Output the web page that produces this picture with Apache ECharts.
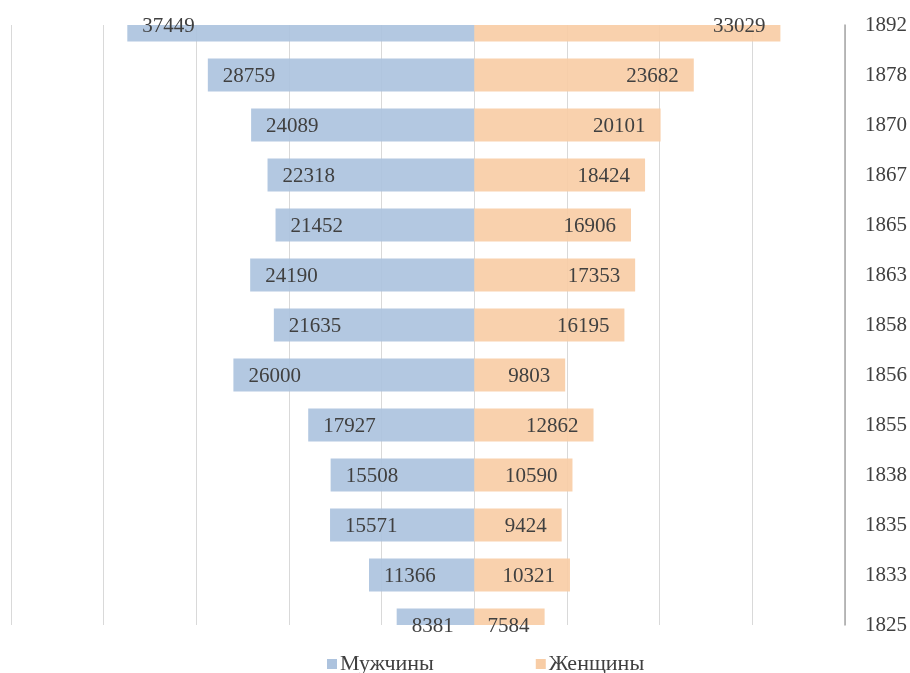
<!DOCTYPE html>
<html><head><meta charset="utf-8">
<script src="https://cdn.jsdelivr.net/npm/echarts@6/dist/echarts.min.js"></script>
<style>html,body{margin:0;padding:0;background:#fff}#c{width:910px;height:673px}</style>
</head><body><div id="c"></div>
<script>
const years = ['1825','1833','1835','1838','1855','1856','1858','1863','1865','1867','1870','1878','1892'];
const men   = [8381, 11366, 15571, 15508, 17927, 26000, 21635, 24190, 21452, 22318, 24089, 28759, 37449];
const women = [7584, 10321, 9424, 10590, 12862, 9803, 16195, 17353, 16906, 18424, 20101, 23682, 33029];
const seriesNames = ['Мужчины', 'Женщины'];
const colors = ['#adc3de', '#f8cda6'];

const font = 'Liberation Serif, Times New Roman, serif';
const BAR_H = 33;

function makeRender(side) {
  return function (params, api) {
    const val = api.value(0);
    const cat = api.value(1);
    const p0 = api.coord([0, cat]);
    const p1 = api.coord([val, cat]);
    const cs = params.coordSys;
    const shape = echarts.graphic.clipRectByRect(
      { x: Math.min(p0[0], p1[0]), y: p0[1] - BAR_H / 2, width: Math.abs(p1[0] - p0[0]), height: BAR_H },
      { x: cs.x, y: cs.y, width: cs.width, height: cs.height }
    );
    const children = [];
    if (shape) {
      children.push({ type: 'rect', shape: shape, style: { fill: api.visual('color'), opacity: 0.92 } });
    }
    children.push({
      type: 'text',
      style: {
        text: String(Math.abs(val)),
        x: side === 'left' ? p1[0] + 15 : p1[0] - 15,
        y: p1[1] + 1,
        align: side === 'left' ? 'left' : 'right',
        verticalAlign: 'middle',
        font: '21px ' + font,
        fill: '#404040'
      }
    });
    return { type: 'group', children: children };
  };
}

const chart = echarts.init(document.getElementById('c'));
chart.setOption({
  animation: false,
  textStyle: { fontFamily: font },
  grid: { left: 11, right: 65, top: 25, bottom: 48, containLabel: false },
  legend: {
    data: seriesNames, top: 648, left: 322, itemGap: 102,
    itemWidth: 10, itemHeight: 10, icon: 'rect',
    textStyle: { fontFamily: font, fontSize: 22, color: '#404040', padding: [0, 0, 0, -2] }
  },
  xAxis: {
    type: 'value', min: -50000, max: 40000, interval: 10000,
    axisLabel: { show: false }, axisLine: { show: false }, axisTick: { show: false },
    splitLine: { lineStyle: { color: '#d9d9d9', width: 1 } }
  },
  yAxis: {
    type: 'category', data: years, position: 'right', boundaryGap: false,
    axisLine: { show: true, onZero: false, lineStyle: { color: '#a6a6a6', width: 1.5 } },
    axisTick: { show: false },
    axisLabel: { fontFamily: font, fontSize: 21, color: '#404040', margin: 20 }
  },
  series: [
    {
      name: seriesNames[0], type: 'custom', clip: false,
      itemStyle: { color: colors[0] },
      encode: { x: 0, y: 1 },
      data: men.map((v, i) => [-v, i]),
      renderItem: makeRender('left')
    },
    {
      name: seriesNames[1], type: 'custom', clip: false,
      itemStyle: { color: colors[1] },
      encode: { x: 0, y: 1 },
      data: women.map((v, i) => [v, i]),
      renderItem: makeRender('right')
    }
  ]
});
</script></body></html>
